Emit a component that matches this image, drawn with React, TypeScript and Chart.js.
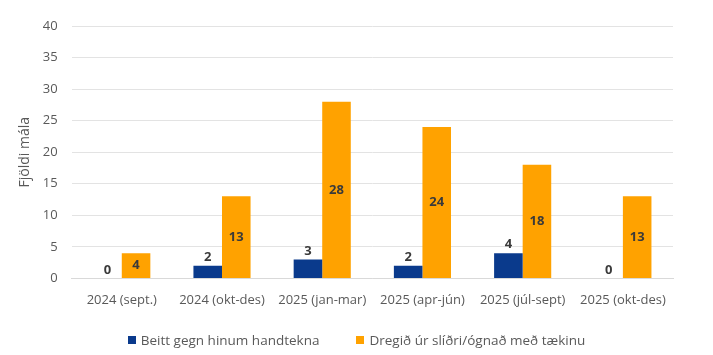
import React, { useEffect, useRef } from "react";
import { Chart, registerables } from "chart.js";

Chart.register(...registerables);

const categories = [
  "2024 (sept.)",
  "2024 (okt-des)",
  "2025 (jan-mar)",
  "2025 (apr-jún)",
  "2025 (júl-sept)",
  "2025 (okt-des)",
];
const beitt = [0, 2, 3, 2, 4, 0];
const dregid = [4, 13, 28, 24, 18, 13];
const seriesNames = ["Beitt gegn hinum handtekna", "Dregið úr slíðri/ógnað með tækinu"];
const seriesColors = ["#0a3a8c", "#ffa200"];
const yTicks = [0, 5, 10, 15, 20, 25, 30, 35, 40];

const FONT = "'Open Sans', 'DejaVu Sans', sans-serif";
const TEXT = "#595959";

const labelPlugin = {
  id: "barLabels",
  afterDatasetsDraw(chart: any) {
    const ctx = chart.ctx;
    ctx.save();
    ctx.font = `bold 13px ${FONT}`;
    ctx.fillStyle = "#3a3a3a";
    ctx.textAlign = "center";
    chart.data.datasets.forEach((ds: any, di: number) => {
      const meta = chart.getDatasetMeta(di);
      meta.data.forEach((el: any, i: number) => {
        const v = ds.data[i];
        if (di === 0) {
          ctx.textBaseline = "bottom";
          ctx.fillText(String(v), el.x, el.y - 2);
        } else {
          ctx.textBaseline = "middle";
          ctx.fillText(String(v), el.x, (el.y + el.base) / 2);
        }
      });
    });
    ctx.restore();
  },
};

export default function App() {
  const ref = useRef<HTMLCanvasElement>(null);
  useEffect(() => {
    if (!ref.current) return;
    const chart = new Chart(ref.current, {
      type: "bar",
      data: {
        labels: categories,
        datasets: [
          {
            label: seriesNames[0],
            data: beitt,
            backgroundColor: seriesColors[0],
            categoryPercentage: 0.57,
            barPercentage: 1.0,
          },
          {
            label: seriesNames[1],
            data: dregid,
            backgroundColor: seriesColors[1],
            categoryPercentage: 0.57,
            barPercentage: 1.0,
          },
        ],
      },
      options: {
        animation: false,
        responsive: false,
        maintainAspectRatio: false,
        layout: { padding: { top: 26, right: 40, left: 13, bottom: 33 } },
        plugins: {
          legend: { display: false },
          tooltip: { enabled: false },
        },
        scales: {
          x: {
            grid: { display: false, drawTicks: false },
            border: { color: "#d9d9d9" },
            ticks: { color: TEXT, font: { family: FONT, size: 13 }, padding: 14 },
          },
          y: {
            min: 0,
            max: 40,
            afterBuildTicks: (axis: any) => {
              axis.ticks = yTicks.map((v) => ({ value: v }));
            },
            grid: { color: "#e3e3e3", drawTicks: false },
            border: { display: false },
            ticks: { color: TEXT, font: { family: FONT, size: 13 }, padding: 14 },
            title: {
              display: true,
              text: "Fjöldi mála",
              color: TEXT,
              font: { family: FONT, size: 14 },
              padding: { top: 4, bottom: -5 },
            },
          },
        },
      },
      plugins: [labelPlugin],
    });
    return () => chart.destroy();
  }, []);
  return (
    <div style={{ position: "absolute", left: 0, top: 0, width: 713, height: 355, background: "#fff" }}>
      <canvas ref={ref} width={713} height={355} style={{ width: 713, height: 355, display: "block" }} />
      <div
        style={{
          position: "absolute",
          left: 0,
          top: 332,
          width: 713,
          display: "flex",
          justifyContent: "center",
          gap: 37,
          fontFamily: FONT,
          fontSize: 13.5,
          lineHeight: "16px",
          color: TEXT,
        }}
      >
        {seriesNames.map((n, i) => (
          <div key={n} style={{ display: "flex", alignItems: "center" }}>
            <span style={{ width: 8, height: 8, background: seriesColors[i], marginRight: 5, display: "inline-block" }} />
            <span>{n}</span>
          </div>
        ))}
      </div>
    </div>
  );
}
